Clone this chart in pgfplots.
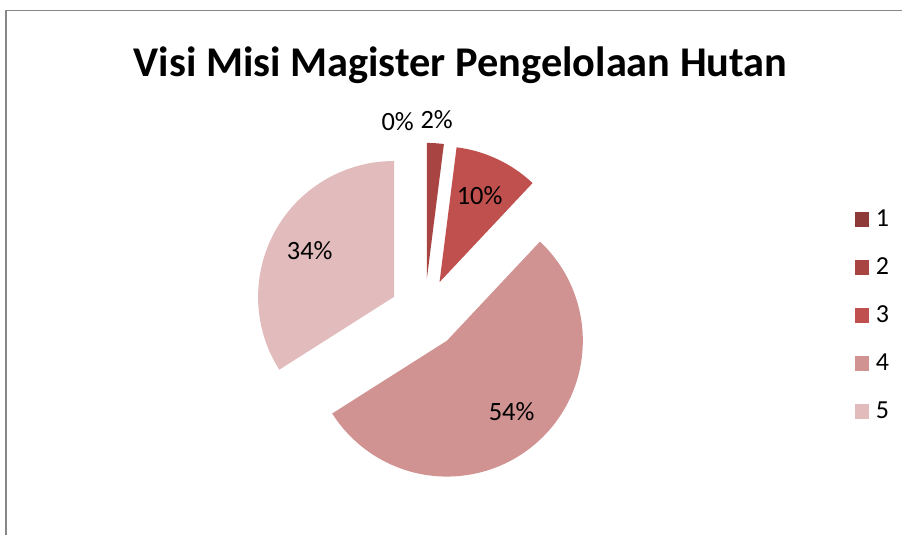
\documentclass[border=0pt]{standalone}
\usepackage{fontspec}
\setmainfont{Carlito}
\usepackage{pgfplots}
\usepackage{pgfplotstable}
\pgfplotsset{compat=1.18}
\definecolor{c0}{HTML}{8E3A39}
\definecolor{c1}{HTML}{A84543}
\definecolor{c2}{HTML}{C0504D}
\definecolor{c3}{HTML}{D19292}
\definecolor{c4}{HTML}{E2BCBC}
\definecolor{framecol}{HTML}{878787}
\pgfplotstableread{
idx value
1 0
2 2
3 10
4 54
5 34
}\piedata
\begin{document}
\begin{tikzpicture}
\begin{axis}[width=903pt,height=535pt,scale only axis,
  xmin=0,xmax=903,ymin=0,ymax=535,hide axis,clip=false,
  legend image code/.code={\fill[#1,draw=none] (0pt,-7.5pt) rectangle (15pt,7.5pt);},
  legend style={at={(axis cs:855,340)}, anchor=north west, draw=none, fill=none,
    inner sep=0pt, column sep=6.5pt, row sep=0pt,
    font=\fontsize{26}{30}\selectfont,
    nodes={inner sep=0pt, text height=31pt, text depth=17.25pt}},
  legend cell align=left]
\path (axis cs:0,0) rectangle (axis cs:903,535);
\def\cum{0}
\pgfplotsforeachungrouped \i in {0,...,4}{%
  \pgfplotstablegetelem{\i}{value}\of\piedata
  \let\v\pgfplotsretval
  \pgfmathsetmacro\a{90-3.6*\cum}%
  \pgfmathsetmacro\b{90-3.6*(\cum+\v)}%
  \pgfmathsetmacro\m{(\a+\b)/2}%
  \pgfmathsetmacro\cx{425+35*cos(\m)}%
  \pgfmathsetmacro\cy{221+35*sin(\m)}%
  \ifdim\v pt>0pt
    \edef\cmd{\noexpand\fill[c\i] (axis cs:\cx,\cy) -- ++(\a:136pt) arc[start angle=\a,end angle=\b,radius=136pt] -- cycle;}%
    \cmd
  \fi
  \pgfmathsetmacro\cum{\cum+\v}%
}
\addlegendimage{fill=c0}\addlegendentry{1}
\addlegendimage{fill=c1}\addlegendentry{2}
\addlegendimage{fill=c2}\addlegendentry{3}
\addlegendimage{fill=c3}\addlegendentry{4}
\addlegendimage{fill=c4}\addlegendentry{5}
\draw[framecol, line width=1.5pt] (axis cs:6,0) -- (axis cs:6,524.5) -- (axis cs:903,524.5);
\node[font=\bfseries\fontsize{42.4}{48}\selectfont, anchor=base] at (axis cs:461,458) {Visi Misi Magister Pengelolaan Hutan};
\begin{scope}[every node/.style={font=\fontsize{26.4}{30}\selectfont}]
\node at (axis cs:398,413) {0\%};
\node at (axis cs:437,415) {2\%};
\node at (axis cs:480,339) {10\%};
\node at (axis cs:310,284) {34\%};
\node at (axis cs:512,123) {54\%};
\end{scope}
\end{axis}
\end{tikzpicture}
\end{document}
